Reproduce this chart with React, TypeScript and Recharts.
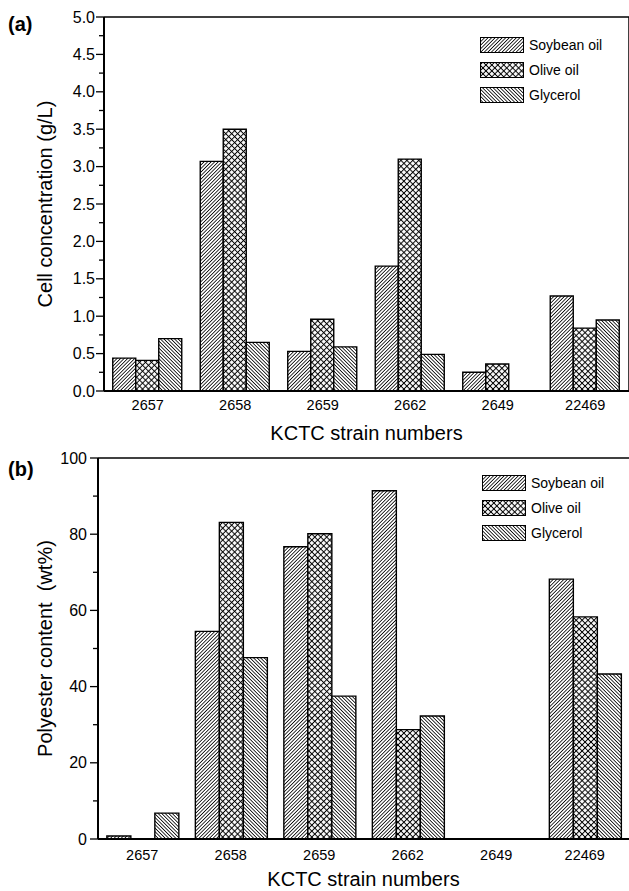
import React from 'react';
import { BarChart, Bar, XAxis, YAxis, Legend, ReferenceLine } from 'recharts';

const FONT = "'Liberation Sans', Arial, Helvetica, sans-serif";

const strains = ['2657', '2658', '2659', '2662', '2649', '22469'];
const seriesNames = ['Soybean oil', 'Olive oil', 'Glycerol'];

// Panel (a): cell concentration (g/L)
const cellSoybean = [0.44, 3.07, 0.53, 1.67, 0.25, 1.27];
const cellOlive = [0.41, 3.5, 0.96, 3.1, 0.36, 0.84];
const cellGlycerol = [0.7, 0.65, 0.59, 0.49, 0, 0.95];

// Panel (b): polyester content (wt%)
const polySoybean = [0.8, 54.5, 76.7, 91.4, 0, 68.2];
const polyOlive = [0, 83.1, 80.1, 28.7, 0, 58.3];
const polyGlycerol = [6.8, 47.6, 37.5, 32.3, 0, 43.3];

const cellTicks = [0, 0.25, 0.5, 0.75, 1, 1.25, 1.5, 1.75, 2, 2.25, 2.5, 2.75, 3, 3.25, 3.5, 3.75, 4, 4.25, 4.5, 4.75, 5];
const cellMajor = [0, 0.5, 1, 1.5, 2, 2.5, 3, 3.5, 4, 4.5, 5];
const polyTicks = [0, 10, 20, 30, 40, 50, 60, 70, 80, 90, 100];
const polyMajor = [0, 20, 40, 60, 80, 100];

const cellData = strains.map((s, i) => ({ strain: s, soy: cellSoybean[i], olive: cellOlive[i], gly: cellGlycerol[i] }));
const polyData = strains.map((s, i) => ({ strain: s, soy: polySoybean[i], olive: polyOlive[i], gly: polyGlycerol[i] }));

const series = [
  { key: 'soy', name: seriesNames[0], pat: 'patSoy' },
  { key: 'olive', name: seriesNames[1], pat: 'patOlive' },
  { key: 'gly', name: seriesNames[2], pat: 'patGly' },
];

function makeYTick(major: number[], fmt: (v: number) => string, gap: number) {
  return (props: any) => {
    const { x, y, payload } = props;
    const isMajor = major.includes(payload.value);
    return (
      <g>
        <line x1={x - (isMajor ? 8 : 5)} x2={x} y1={y} y2={y} stroke="#000" strokeWidth={1.3} />
        {isMajor && (
          <text x={x - gap} y={y} dy="0.355em" textAnchor="end" fontSize={16} fontFamily={FONT} fill="#000">
            {fmt(payload.value)}
          </text>
        )}
      </g>
    );
  };
}

function makeYTitle(text: string, cx: number) {
  return (props: any) => {
    const vb = props.viewBox || { x: 0, y: 0, width: 0, height: 0 };
    const x = vb.x + cx;
    const y = vb.y + vb.height / 2;
    return (
      <text
        x={x}
        y={y}
        transform={`rotate(-90, ${x}, ${y})`}
        textAnchor="middle"
        dominantBaseline="central"
        fontSize={20}
        fontFamily={FONT}
        fill="#000"
        style={{ whiteSpace: 'pre' }}
      >
        {text}
      </text>
    );
  };
}

const renderLegend = () => (
  <div style={{ fontFamily: FONT, fontSize: 14, color: '#000' }}>
    {series.map((s) => (
      <div key={s.key} style={{ display: 'flex', alignItems: 'center', height: 25 }}>
        <svg width={44} height={16} style={{ display: 'block' }}>
          <rect x={0.5} y={0.5} width={43} height={15} fill={`url(#${s.pat})`} stroke="#000" strokeWidth={1} />
        </svg>
        <span style={{ marginLeft: 5, lineHeight: '16px' }}>{s.name}</span>
      </div>
    ))}
  </div>
);

const Patterns = () => (
  <svg width={0} height={0} style={{ position: 'absolute', left: 0, top: 0 }}>
    <defs>
      <pattern id="patSoy" patternUnits="userSpaceOnUse" width={2.5} height={2.5} patternTransform="rotate(45)">
        <rect width={2.5} height={2.5} fill="#fff" />
        <line x1={1.25} y1={0} x2={1.25} y2={2.5} stroke="#000" strokeWidth={0.8} />
      </pattern>
      <pattern id="patGly" patternUnits="userSpaceOnUse" width={2.5} height={2.5} patternTransform="rotate(-45)">
        <rect width={2.5} height={2.5} fill="#fff" />
        <line x1={1.25} y1={0} x2={1.25} y2={2.5} stroke="#000" strokeWidth={0.8} />
      </pattern>
      <pattern id="patOlive" patternUnits="userSpaceOnUse" width={4.2} height={4.2} patternTransform="rotate(45)">
        <rect width={4.2} height={4.2} fill="#fff" />
        <line x1={2.1} y1={0} x2={2.1} y2={4.2} stroke="#000" strokeWidth={1} />
        <line x1={0} y1={2.1} x2={4.2} y2={2.1} stroke="#000" strokeWidth={1} />
      </pattern>
    </defs>
  </svg>
);

export default function App() {
  return (
    <div style={{ position: 'absolute', left: 0, top: 0, width: 629, height: 891, background: '#fff', fontFamily: FONT }}>
      <Patterns />
      <div style={{ position: 'absolute', left: 8, top: 14, fontSize: 20, fontWeight: 'bold', lineHeight: '20px', color: '#000' }}>(a)</div>
      <div style={{ position: 'absolute', left: 8, top: 459, fontSize: 20, fontWeight: 'bold', lineHeight: '20px', color: '#000' }}>(b)</div>

      <div style={{ position: 'absolute', left: 0, top: 0 }}>
        <BarChart width={629} height={445} data={cellData} margin={{ top: 17, right: 0, bottom: 0, left: 0 }} barGap={0} barCategoryGap="10%">
          <XAxis
            dataKey="strain"
            height={54}
            tickLine={false}
            tickSize={0}
            tickMargin={9}
            axisLine={{ stroke: '#000', strokeWidth: 2 }}
            tick={{ fontSize: 14.5, fill: '#000', fontFamily: FONT }}
            interval={0}
            label={{ value: 'KCTC strain numbers', position: 'insideBottom', offset: 5, fontSize: 20, fill: '#000', fontFamily: FONT }}
          />
          <YAxis
            yAxisId="left"
            width={104}
            domain={[0, 5]}
            ticks={cellTicks}
            interval={0}
            tickLine={false}
            tickSize={0}
            tickMargin={0}
            axisLine={{ stroke: '#000', strokeWidth: 2 }}
            tick={makeYTick(cellMajor, (v) => v.toFixed(1), 9)}
            label={makeYTitle('Cell concentration (g/L)', 45)}
          />
          <YAxis
            yAxisId="right"
            orientation="right"
            width={1}
            mirror
            domain={[0, 5]}
            ticks={cellMajor}
            interval={0}
            tick={false}
            tickSize={4}
            tickLine={{ stroke: '#000', strokeWidth: 1 }}
            axisLine={{ stroke: '#000', strokeWidth: 1.5 }}
          />
          <ReferenceLine yAxisId="left" y={5} stroke="#000" strokeWidth={1.5} />
          <Legend layout="vertical" align="center" verticalAlign="middle" content={renderLegend} wrapperStyle={{ left: 480, top: 32 }} />
          {series.map((s) => (
            <Bar key={s.key} yAxisId="left" dataKey={s.key} name={s.name} fill={`url(#${s.pat})`} stroke="#000" strokeWidth={1.4} isAnimationActive={false} />
          ))}
        </BarChart>
      </div>

      <div style={{ position: 'absolute', left: 0, top: 445 }}>
        <BarChart width={629} height={446} data={polyData} margin={{ top: 13, right: 0, bottom: 0, left: 0 }} barGap={0} barCategoryGap="10%">
          <XAxis
            dataKey="strain"
            height={52}
            tickLine={false}
            tickSize={0}
            tickMargin={11}
            axisLine={{ stroke: '#000', strokeWidth: 2 }}
            tick={{ fontSize: 14.5, fill: '#000', fontFamily: FONT }}
            interval={0}
            label={{ value: 'KCTC strain numbers', position: 'insideBottom', offset: 5, fontSize: 20, fill: '#000', fontFamily: FONT }}
          />
          <YAxis
            yAxisId="left"
            width={98}
            domain={[0, 100]}
            ticks={polyTicks}
            interval={0}
            tickLine={false}
            tickSize={0}
            tickMargin={0}
            axisLine={{ stroke: '#000', strokeWidth: 2 }}
            tick={makeYTick(polyMajor, (v) => String(v), 11)}
            label={makeYTitle('Polyester content  (wt%)', 45)}
          />
          <ReferenceLine yAxisId="left" y={100} stroke="#000" strokeWidth={1.5} />
          <Legend layout="vertical" align="center" verticalAlign="middle" content={renderLegend} wrapperStyle={{ left: 482, top: 25.5 }} />
          {series.map((s) => (
            <Bar key={s.key} yAxisId="left" dataKey={s.key} name={s.name} fill={`url(#${s.pat})`} stroke="#000" strokeWidth={1.4} isAnimationActive={false} />
          ))}
        </BarChart>
      </div>
    </div>
  );
}
